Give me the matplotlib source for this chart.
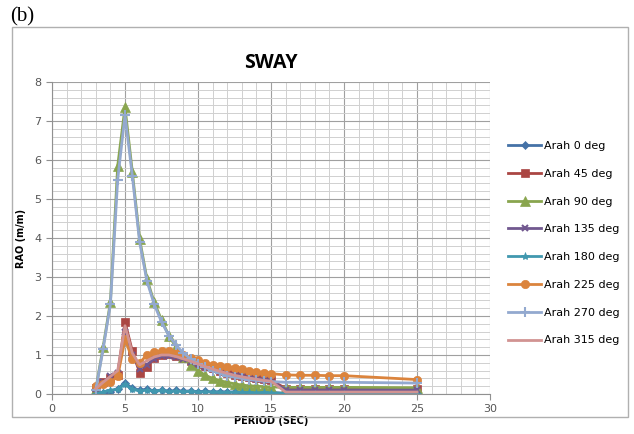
import matplotlib
matplotlib.use("Agg")
import matplotlib.pyplot as plt
from matplotlib.patches import Rectangle
from matplotlib.ticker import MultipleLocator

period = [3, 3.5, 4, 4.5, 5, 5.5, 6, 6.5, 7, 7.5, 8, 8.5, 9, 9.5, 10, 10.5, 11, 11.5,
          12, 12.5, 13, 13.5, 14, 14.5, 15, 16, 17, 18, 19, 20, 25]

arah_0 = [0.02, 0.03, 0.06, 0.14, 0.28, 0.15, 0.10, 0.12, 0.08, 0.10, 0.07, 0.09, 0.07, 0.08, 0.06, 0.07,
          0.05, 0.06, 0.05, 0.05, 0.04, 0.05, 0.04, 0.04, 0.04, 0.02, 0.02, 0.02, 0.02, 0.02, 0.02]
arah_45 = [0.15, 0.30, 0.42, 0.50, 1.85, 1.10, 0.55, 0.70, 0.92, 1.00, 1.02, 0.98, 0.92, 0.85, 0.78, 0.72,
           0.66, 0.60, 0.55, 0.50, 0.47, 0.44, 0.41, 0.38, 0.36, 0.14, 0.14, 0.14, 0.14, 0.14, 0.12]
arah_90 = [0.12, 1.20, 2.35, 5.85, 7.35, 5.70, 3.98, 2.95, 2.35, 1.90, 1.50, 1.20, 0.95, 0.75, 0.60, 0.48,
           0.40, 0.34, 0.30, 0.26, 0.23, 0.21, 0.20, 0.19, 0.18, 0.17, 0.17, 0.17, 0.17, 0.17, 0.16]
arah_135 = [0.12, 0.30, 0.45, 0.55, 1.60, 1.00, 0.65, 0.75, 0.90, 0.97, 0.98, 0.95, 0.90, 0.83, 0.76, 0.70,
            0.64, 0.58, 0.53, 0.49, 0.45, 0.42, 0.39, 0.37, 0.35, 0.10, 0.10, 0.10, 0.10, 0.10, 0.10]
arah_180 = [0.00, 0.05, 0.10, 0.12, 0.25, 0.12, 0.08, 0.10, 0.07, 0.09, 0.06, 0.08, 0.06, 0.07, 0.05, 0.06,
            0.05, 0.05, 0.04, 0.05, 0.04, 0.04, 0.03, 0.04, 0.03, 0.01, 0.01, 0.01, 0.01, 0.01, 0.01]
arah_225 = [0.20, 0.25, 0.30, 0.45, 1.40, 0.90, 0.80, 1.00, 1.08, 1.10, 1.10, 1.05, 1.00, 0.93, 0.87, 0.80,
            0.75, 0.72, 0.70, 0.67, 0.63, 0.60, 0.57, 0.55, 0.52, 0.49, 0.48, 0.48, 0.47, 0.47, 0.37]
arah_270 = [0.10, 1.15, 2.30, 5.50, 7.15, 5.60, 3.90, 2.90, 2.30, 1.85, 1.50, 1.25, 1.05, 0.90, 0.78, 0.68,
            0.60, 0.53, 0.47, 0.43, 0.40, 0.37, 0.35, 0.33, 0.32, 0.30, 0.30, 0.30, 0.30, 0.30, 0.28]
arah_315 = [0.14, 0.30, 0.45, 0.60, 1.75, 1.05, 0.75, 0.85, 0.95, 1.00, 1.00, 0.96, 0.90, 0.84, 0.77, 0.70,
            0.64, 0.58, 0.53, 0.48, 0.44, 0.41, 0.38, 0.35, 0.33, 0.05, 0.05, 0.05, 0.05, 0.05, 0.05]

labels = ["Arah 0 deg", "Arah 45 deg", "Arah 90 deg", "Arah 135 deg",
          "Arah 180 deg", "Arah 225 deg", "Arah 270 deg", "Arah 315 deg"]
series = [arah_0, arah_45, arah_90, arah_135, arah_180, arah_225, arah_270, arah_315]
colors = ["#4572A7", "#AA4643", "#89A54E", "#71588F", "#4198AF", "#DB843D", "#93A9CF", "#D19392"]
markers = ["D", "s", "^", "x", "*", "o", "+", None]
msizes = [4, 6, 7, 5, 6, 6, 7, 0]

fig = plt.figure(figsize=(6.34, 4.34), dpi=100)
fig.patches.append(Rectangle((12 / 634, 17 / 434), 616 / 634, 390 / 434, transform=fig.transFigure,
                             fill=False, edgecolor="#b0b0b0", linewidth=1))
fig.text(10 / 634, 1 - 17 / 434, "(b)", family="Liberation Serif", fontsize=15, va="center", ha="left")

ax = fig.add_axes([52 / 634, 40 / 434, 438 / 634, 312 / 434])
for ys, lab, c, m, ms in zip(series, labels, colors, markers, msizes):
    ax.plot(period, ys, color=c, marker=m, markersize=ms, linewidth=2, label=lab,
            markeredgewidth=1.5 if m in ("x", "+") else 0.5)

ax.set_xlim(0, 30)
ax.set_ylim(0, 8)
ax.xaxis.set_major_locator(MultipleLocator(5))
ax.xaxis.set_minor_locator(MultipleLocator(1))
ax.yaxis.set_major_locator(MultipleLocator(1))
ax.yaxis.set_minor_locator(MultipleLocator(0.2))
ax.grid(which="major", color="#a0a0a0", linewidth=0.8)
ax.grid(which="minor", color="#d0d0d0", linewidth=0.7)
ax.set_axisbelow(True)
for s in ("top", "right"):
    ax.spines[s].set_visible(False)
for s in ("left", "bottom"):
    ax.spines[s].set_color("#909090")
ax.tick_params(which="major", colors="#909090", labelcolor="#555555", labelsize=8, length=4)
ax.tick_params(which="minor", length=0)

ax.set_title("SWAY", fontsize=14, fontweight="bold", family="Open Sans", pad=10)
ax.set_xlabel("PERIOD (SEC)", fontsize=7, fontweight="bold", labelpad=1)
ax.set_ylabel("RAO (m/m)", fontsize=7, fontweight="bold", labelpad=6)

fig.legend(loc="upper left", bbox_to_anchor=(498 / 634, 1 - 131 / 434), frameon=False,
           fontsize=8, labelspacing=1.6, handlelength=3.0, handletextpad=0.2)

fig.savefig("out.png", dpi=100)
